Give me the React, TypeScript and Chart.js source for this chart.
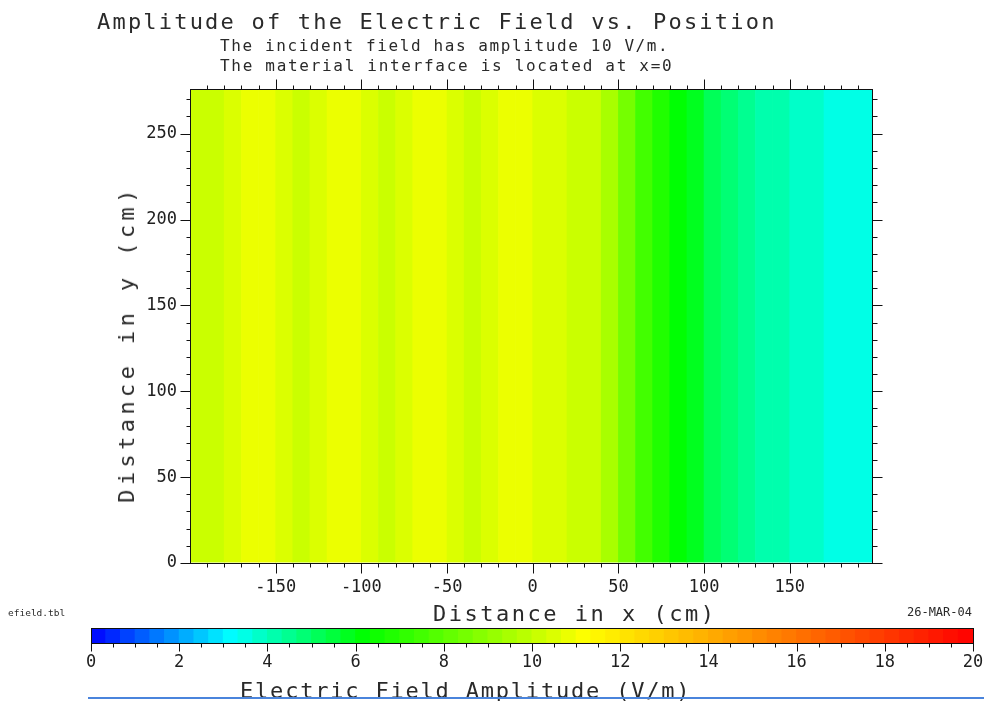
import React, { useEffect, useRef } from 'react';
import { Chart, registerables } from 'chart.js';

Chart.register(...registerables);
Chart.defaults.font.family = "'DejaVu Sans Mono', monospace";
Chart.defaults.color = '#202020';

// Column centres of the field samples along x (cm); each column is 10 cm wide.
const xCentersCm = [
  -195, -185, -175, -165, -155, -145, -135, -125, -115, -105,
  -95, -85, -75, -65, -55, -45, -35, -25, -15, -5,
  5, 15, 25, 35, 45, 55, 65, 75, 85, 95,
  105, 115, 125, 135, 145, 155, 165, 175, 185, 195,
];

// Electric field amplitude (V/m) in each column; constant along y.
const fieldAmplitude = [
  10.25, 10.3, 10.45, 10.75, 10.7, 10.45, 10.25, 10.45, 10.75, 10.7,
  10.45, 10.3, 10.45, 10.75, 10.7, 10.45, 10.25, 10.45, 10.75, 10.75,
  10.6, 10.5, 10.15, 10.0, 9.5, 8.4, 7.4, 6.8, 6.3, 5.8,
  5.2, 4.9, 4.55, 4.3, 4.1, 3.9, 3.75, 3.55, 3.45, 3.35,
];

const xRangeCm = [-200, 198];
const yRangeCm = [0, 276];
const xTickLabels = [-150, -100, -50, 0, 50, 100, 150];
const yTickLabels = [0, 50, 100, 150, 200, 250];
const colorbarRange = [0, 20];
const colorbarTickLabels = [0, 2, 4, 6, 8, 10, 12, 14, 16, 18, 20];

// Rainbow colour map: blue -> cyan -> green -> yellow -> red, in 1/3 V/m bands.
const mapStops = [0, 3.2, 6.2, 11.2, 20];
const mapColors = [
  [0, 0, 255],
  [0, 255, 255],
  [0, 255, 0],
  [255, 255, 0],
  [255, 0, 0],
];
const bandsPerUnit = 3;

function rawColor(v: number): string {
  const c = Math.max(mapStops[0], Math.min(mapStops[mapStops.length - 1], v));
  let i = 0;
  while (i < mapStops.length - 2 && c > mapStops[i + 1]) i++;
  const t = (c - mapStops[i]) / (mapStops[i + 1] - mapStops[i]);
  const a = mapColors[i];
  const b = mapColors[i + 1];
  const rgb = a.map((ch, k) => Math.round(ch + (b[k] - ch) * t));
  return `rgb(${rgb[0]},${rgb[1]},${rgb[2]})`;
}

function bandColor(v: number): string {
  const band = Math.min(
    Math.floor(v * bandsPerUnit),
    colorbarRange[1] * bandsPerUnit - 1,
  );
  return rawColor((band + 0.5) / bandsPerUnit);
}

function isMultiple(v: number, step: number) {
  const r = v / step;
  return Math.abs(r - Math.round(r)) < 1e-6;
}

// Draws the plot frame and outward tick marks (long majors, short minors).
const axisFrame = {
  id: 'axisFrame',
  afterDatasetsDraw(chart: any, _args: any, opts: any) {
    const { ctx, chartArea: a } = chart;
    ctx.save();
    ctx.strokeStyle = opts.color || '#111';
    ctx.lineWidth = 1;
    ctx.beginPath();
    for (const spec of opts.axes || []) {
      const s = chart.scales[spec.id];
      for (const t of s.ticks) {
        const v = t.value;
        if (spec.skip && spec.skip.includes(v)) continue;
        const len = isMultiple(v, spec.majorEvery) ? spec.major : spec.minor;
        const p = Math.round(s.getPixelForValue(v)) + 0.5;
        if (spec.side === 'bottom') {
          ctx.moveTo(p, Math.round(a.bottom) + 0.5);
          ctx.lineTo(p, Math.round(a.bottom) + 0.5 + len);
        } else if (spec.side === 'top') {
          ctx.moveTo(p, Math.round(a.top) + 0.5);
          ctx.lineTo(p, Math.round(a.top) + 0.5 - len);
        } else if (spec.side === 'left') {
          ctx.moveTo(Math.round(a.left) + 0.5, p);
          ctx.lineTo(Math.round(a.left) + 0.5 - len, p);
        } else {
          ctx.moveTo(Math.round(a.right) + 0.5, p);
          ctx.lineTo(Math.round(a.right) + 0.5 + len, p);
        }
      }
    }
    ctx.stroke();
    ctx.strokeRect(
      Math.round(a.left) + 0.5,
      Math.round(a.top) + 0.5,
      Math.round(a.right) - Math.round(a.left),
      Math.round(a.bottom) - Math.round(a.top),
    );
    ctx.restore();
  },
};

const hiddenGrid = {
  offset: false,
  drawOnChartArea: false,
  color: 'transparent',
  tickColor: 'transparent',
};

function fieldChartConfig(): any {
  return {
    type: 'bar',
    data: {
      datasets: [
        {
          data: xCentersCm.map((x) => ({ x, y: [yRangeCm[0], yRangeCm[1]] })),
          backgroundColor: fieldAmplitude.map(bandColor),
          borderWidth: 0,
          barPercentage: 1.04,
          categoryPercentage: 1,
          clip: 0,
        },
      ],
    },
    options: {
      responsive: false,
      animation: false,
      events: [],
      layout: { padding: 0 },
      plugins: {
        legend: { display: false },
        tooltip: { enabled: false },
        axisFrame: {
          color: '#111',
          axes: [
            { id: 'x', side: 'bottom', majorEvery: 50, major: 10, minor: 4, skip: [xRangeCm[0]] },
            { id: 'x2', side: 'top', majorEvery: 50, major: 10, minor: 4, skip: [xRangeCm[0]] },
            { id: 'y', side: 'left', majorEvery: 50, major: 10, minor: 4 },
            { id: 'y2', side: 'right', majorEvery: 50, major: 10, minor: 5 },
          ],
        },
      },
      scales: {
        x: {
          type: 'linear',
          position: 'bottom',
          offset: false,
          min: xRangeCm[0],
          max: xRangeCm[1],
          border: { display: false },
          grid: { ...hiddenGrid, tickLength: 10 },
          ticks: {
            stepSize: 10,
            includeBounds: false,
            autoSkip: false,
            maxRotation: 0,
            padding: 4,
            font: { size: 17 },
            callback: (v: number) => (xTickLabels.includes(v) ? String(v) : ''),
          },
          afterFit: (s: any) => {
            s.height = 57;
            s.paddingLeft = 0;
            s.paddingRight = 0;
          },
        },
        x2: {
          type: 'linear',
          position: 'top',
          offset: false,
          min: xRangeCm[0],
          max: xRangeCm[1],
          border: { display: false },
          grid: { ...hiddenGrid, tickLength: 10 },
          ticks: { display: false, stepSize: 10, includeBounds: false },
          afterFit: (s: any) => {
            s.height = 89;
            s.paddingLeft = 0;
            s.paddingRight = 0;
          },
        },
        y: {
          type: 'linear',
          position: 'left',
          min: yRangeCm[0],
          max: yRangeCm[1],
          border: { display: false },
          grid: { ...hiddenGrid, tickLength: 10 },
          ticks: {
            stepSize: 10,
            includeBounds: false,
            autoSkip: false,
            padding: 3,
            font: { size: 17 },
            callback: (v: number) => (yTickLabels.includes(v) ? String(v) : ''),
          },
          afterFit: (s: any) => {
            s.width = 190;
            s.paddingTop = 0;
            s.paddingBottom = 0;
          },
        },
        y2: {
          type: 'linear',
          position: 'right',
          min: yRangeCm[0],
          max: yRangeCm[1],
          border: { display: false },
          grid: { ...hiddenGrid, tickLength: 10 },
          ticks: { display: false, stepSize: 10, includeBounds: false },
          afterFit: (s: any) => {
            s.width = 112;
            s.paddingTop = 0;
            s.paddingBottom = 0;
          },
        },
      },
    },
    plugins: [axisFrame],
  };
}

function colorbarConfig(): any {
  const nBands = (colorbarRange[1] - colorbarRange[0]) * bandsPerUnit;
  const bandCenters: number[] = [];
  for (let k = 0; k < nBands; k++) bandCenters.push(colorbarRange[0] + (k + 0.5) / bandsPerUnit);
  return {
    type: 'bar',
    data: {
      datasets: [
        {
          data: bandCenters.map((x) => ({ x, y: [0, 1] })),
          backgroundColor: bandCenters.map(bandColor),
          borderWidth: 0,
          barPercentage: 1.06,
          categoryPercentage: 1,
          clip: 0,
        },
      ],
    },
    options: {
      responsive: false,
      animation: false,
      events: [],
      layout: { padding: { left: 91, right: 11, top: 28, bottom: 0 } },
      plugins: {
        legend: { display: false },
        tooltip: { enabled: false },
        axisFrame: {
          color: '#111',
          axes: [{ id: 'x', side: 'bottom', majorEvery: 2, major: 8, minor: 4 }],
        },
      },
      scales: {
        x: {
          type: 'linear',
          position: 'bottom',
          offset: false,
          min: colorbarRange[0],
          max: colorbarRange[1],
          border: { display: false },
          grid: { ...hiddenGrid, tickLength: 8 },
          ticks: {
            stepSize: 0.5,
            autoSkip: false,
            maxRotation: 0,
            padding: 1,
            font: { size: 17 },
            callback: (v: number) => (colorbarTickLabels.includes(v) ? String(v) : ''),
          },
          afterFit: (s: any) => {
            s.height = 58;
            s.paddingLeft = 0;
            s.paddingRight = 0;
          },
        },
        y: { type: 'linear', display: false, min: 0, max: 1 },
      },
    },
    plugins: [axisFrame],
  };
}

type TextProps = {
  text: string;
  left?: number;
  right?: number;
  top: number;
  size: number;
  spacing?: number;
};

function Text({ text, left, right, top, size, spacing = 0 }: TextProps) {
  return (
    <div
      style={{
        position: 'absolute',
        left,
        right,
        top,
        fontSize: size,
        lineHeight: `${size}px`,
        letterSpacing: spacing,
        whiteSpace: 'nowrap',
      }}
    >
      {text}
    </div>
  );
}

export default function App() {
  const fieldRef = useRef<HTMLCanvasElement>(null);
  const barRef = useRef<HTMLCanvasElement>(null);

  useEffect(() => {
    const field = new Chart(fieldRef.current as HTMLCanvasElement, fieldChartConfig());
    const bar = new Chart(barRef.current as HTMLCanvasElement, colorbarConfig());
    return () => {
      field.destroy();
      bar.destroy();
    };
  }, []);

  return (
    <div
      style={{
        position: 'fixed',
        left: 0,
        top: 0,
        width: 984,
        height: 701,
        overflow: 'hidden',
        background: '#ffffff',
        color: '#2a2a2a',
        fontFamily: "'DejaVu Sans Mono', monospace",
      }}
    >
      <canvas ref={fieldRef} width={984} height={620} style={{ position: 'absolute', left: 0, top: 0 }} />
      <canvas ref={barRef} width={984} height={101} style={{ position: 'absolute', left: 0, top: 600 }} />

      <Text text="Amplitude of the Electric Field vs. Position" left={97} top={11} size={22} spacing={2.2} />
      <Text text="The incident field has amplitude 10 V/m." left={220} top={38} size={16} spacing={1.6} />
      <Text text="The material interface is located at x=0" left={220} top={58} size={16} spacing={1.7} />

      <div
        style={{
          position: 'absolute',
          left: 127,
          top: 344,
          transform: 'translate(-50%, -50%) rotate(-90deg)',
          fontSize: 22,
          lineHeight: '22px',
          letterSpacing: 4.4,
          whiteSpace: 'nowrap',
        }}
      >
        Distance in y (cm)
      </div>
      <Text text="Distance in x (cm)" left={433} top={603} size={22} spacing={2.5} />

      <Text text="efield.tbl" left={8} top={608} size={9.5} />
      <Text text="26-MAR-04" right={12} top={606} size={12} />

      <Text text="Electric Field Amplitude (V/m)" left={240} top={680} size={22} spacing={1.8} />
      <div
        style={{
          position: 'absolute',
          left: 88,
          top: 697,
          width: 896,
          height: 2,
          background: '#4a84dc',
        }}
      />
    </div>
  );
}
